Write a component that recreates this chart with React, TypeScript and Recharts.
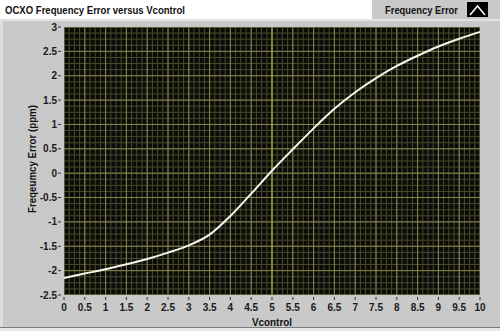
import React from 'react';
import { ComposedChart, Line, XAxis, YAxis, CartesianGrid, ReferenceLine } from 'recharts';

const vcontrol = [0, 0.5, 1, 1.5, 2, 2.5, 3, 3.5, 4, 4.5, 5, 5.5, 6, 6.5, 7, 7.5, 8, 8.5, 9, 9.5, 10];
const frequencyError = [-2.15, -2.06, -1.97, -1.87, -1.76, -1.63, -1.48, -1.26, -0.88, -0.42, 0.05, 0.49, 0.92, 1.32, 1.66, 1.95, 2.2, 2.41, 2.6, 2.76, 2.9];
const xTicks = [0, 0.5, 1, 1.5, 2, 2.5, 3, 3.5, 4, 4.5, 5, 5.5, 6, 6.5, 7, 7.5, 8, 8.5, 9, 9.5, 10];
const yTicks = [-2.5, -2, -1.5, -1, -0.5, 0, 0.5, 1, 1.5, 2, 2.5, 3];

const xMinor: number[] = [];
for (let i = 0; i <= 80; i++) xMinor.push(i * 0.125);
const yMinor: number[] = [];
for (let i = 0; i <= 44; i++) yMinor.push(-2.5 + i * 0.125);

const data = vcontrol.map((v, i) => ({ v, f: frequencyError[i] }));

const FONT = '"Liberation Sans", Arial, sans-serif';

const XTick = (props: any) => {
  const { x, y, payload } = props;
  return (
    <g>
      <line x1={x} x2={x} y1={y + 2} y2={y + 5} stroke="#333" strokeWidth={1} />
      <text x={x} y={y + 16} textAnchor="middle" fontFamily={FONT} fontWeight="bold" fontSize={10} fill="#1a1a1a">
        {payload.value}
      </text>
    </g>
  );
};

const YTick = (props: any) => {
  const { x, y, payload } = props;
  return (
    <g>
      <line x1={x - 6} x2={x - 3} y1={y} y2={y} stroke="#333" strokeWidth={1} />
      <text x={x - 7} y={y + 3.5} textAnchor="end" fontFamily={FONT} fontWeight="bold" fontSize={10} fill="#1a1a1a">
        {payload.value}
      </text>
    </g>
  );
};

export default function App() {
  return (
    <div style={{ position: 'absolute', left: 0, top: 0, width: 500, height: 331, background: '#ffffff', overflow: 'hidden' }}>
      <svg width={500} height={331} style={{ position: 'absolute', left: 0, top: 0 }}>
        <rect x={0} y={19} width={500} height={312} fill="#c9c9c9" />
        <rect x={0} y={19} width={3} height={312} fill="#dedede" />
        <rect x={0} y={19} width={500} height={2} fill="#e2e2e2" />
        <rect x={0} y={327} width={500} height={1} fill="#7a7a7a" />
        <rect x={0} y={328} width={500} height={3} fill="#e8e8e8" />
        <rect x={372} y={0} width={128} height={19} fill="#c9c9c9" />
      </svg>
      <div style={{ position: 'absolute', left: 0, top: 0 }}>
        <ComposedChart width={500} height={331} data={data} margin={{ top: 27, right: 20, bottom: 0, left: 0 }}>
          <CartesianGrid fill="#0b0b07" stroke="none" horizontal={false} vertical={false} />
          {xMinor.map((v) => (
            <ReferenceLine key={'xm' + v} x={v} stroke="#4a4a30" strokeWidth={1} ifOverflow="hidden" />
          ))}
          {yMinor.map((v) => (
            <ReferenceLine key={'ym' + v} y={v} stroke="#4a4a30" strokeWidth={1} ifOverflow="hidden" />
          ))}
          {xTicks.map((v) => (
            <ReferenceLine key={'xM' + v} x={v} stroke="#85854f" strokeWidth={1} ifOverflow="hidden" />
          ))}
          {yTicks.map((v) => (
            <ReferenceLine key={'yM' + v} y={v} stroke="#85854f" strokeWidth={1} ifOverflow="hidden" />
          ))}
          <ReferenceLine x={5} stroke="#a9a94c" strokeWidth={1} />
          <XAxis
            dataKey="v"
            type="number"
            domain={[0, 10]}
            ticks={xTicks}
            interval={0}
            height={36}
            axisLine={false}
            tickLine={false}
            tickSize={0}
            tickMargin={0}
            tick={<XTick />}
          />
          <YAxis
            type="number"
            domain={[-2.5, 3]}
            ticks={yTicks}
            interval={0}
            width={64}
            axisLine={false}
            tickLine={false}
            tickSize={0}
            tickMargin={0}
            tick={<YTick />}
          />
          <Line dataKey="f" type="monotone" stroke="#f6f6ea" strokeWidth={2} dot={false} isAnimationActive={false} />
        </ComposedChart>
      </div>
      <svg width={500} height={331} style={{ position: 'absolute', left: 0, top: 0, pointerEvents: 'none' }}>
        <text x={5} y={14} fontFamily={FONT} fontWeight="bold" fontSize={11} fill="#111" textLength={180} lengthAdjust="spacingAndGlyphs">
          OCXO Frequency Error versus Vcontrol
        </text>
        <text x={385} y={14} fontFamily={FONT} fontWeight="bold" fontSize={11} fill="#111" textLength={73} lengthAdjust="spacingAndGlyphs">
          Frequency Error
        </text>
        <rect x={467} y={2} width={21} height={15} fill="#000" />
        <polyline points="470,15 477.5,6 485,15" fill="none" stroke="#fff" strokeWidth={1.5} />
        <text
          x={0}
          y={0}
          transform="translate(36,159) rotate(-90)"
          textAnchor="middle"
          fontFamily={FONT}
          fontWeight="bold"
          fontSize={10}
          fill="#111"
          textLength={108}
          lengthAdjust="spacingAndGlyphs"
        >
          Freqeumcy Error (ppm)
        </text>
        <text x={252} y={326} fontFamily={FONT} fontWeight="bold" fontSize={11} fill="#111" textLength={40} lengthAdjust="spacingAndGlyphs">
          Vcontrol
        </text>
      </svg>
    </div>
  );
}
